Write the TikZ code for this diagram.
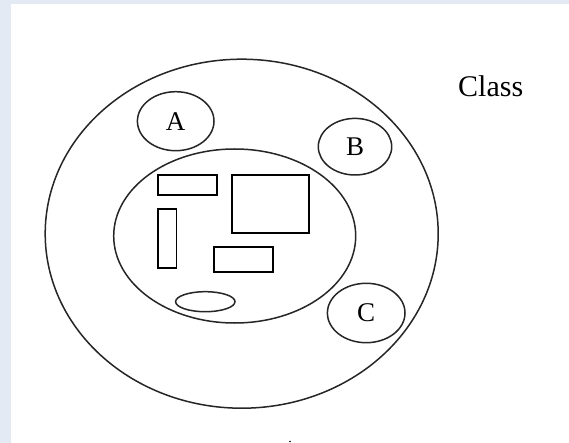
\documentclass[tikz,border=0pt]{standalone}
\usepackage{fontspec}
\setmainfont{Liberation Serif}
\usetikzlibrary{shapes.geometric}
\definecolor{pagebg}{RGB}{227,234,243}

\begin{document}
\begin{tikzpicture}[x=1pt,y=-1pt,
  ring/.style={ellipse,draw=black!85,line width=1.5pt,inner sep=0pt},
  part/.style={rectangle,draw=black,line width=1.7pt,inner sep=0pt},
  tag/.style={font=\fontsize{27}{30}\selectfont}]
  \useasboundingbox (0,0) rectangle (569,443);
  \fill[pagebg] (0,0) rectangle (569,443);
  \fill[white] (11,4) rectangle (569,443);

  % the class and its body
  \node[ring,minimum width=393pt,minimum height=349pt] (outer) at (241.7,233.7) {};
  \node[ring,minimum width=242pt,minimum height=174pt] (inner) at (234.7,236) {};

  % parts inside the body
  \node[part,minimum width=58.7pt,minimum height=19.7pt] (p1) at (187.3,185.2) {};
  \node[part,minimum width=76.4pt,minimum height=58pt] (p2) at (270.5,204.3) {};
  \node[part,minimum width=18.3pt,minimum height=58.4pt] (p3) at (167.2,238.5) {};
  \node[part,minimum width=58.7pt,minimum height=24.4pt] (p4) at (243.3,259.5) {};
  \node[ring,minimum width=59.4pt,minimum height=20pt] (p5) at (205.3,301.7) {};

  % members
  \node[ring,tag,minimum width=76.6pt,minimum height=59pt] (a) at (175.7,121.2) {A};
  \node[ring,tag,minimum width=73.4pt,minimum height=56.6pt] (b) at (355,146.7) {B};
  \node[ring,tag,minimum width=77.6pt,minimum height=59.4pt] (c) at (366.2,313) {C};

  \node[anchor=base west,inner sep=0pt,font=\fontsize{30}{34}\selectfont] (title) at (458,96.5) {Class};
  \fill (290,441.5) circle (0.9);
\end{tikzpicture}
\end{document}
